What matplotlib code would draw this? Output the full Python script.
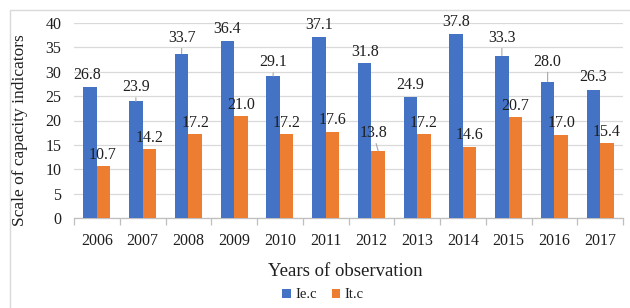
import matplotlib
matplotlib.use("Agg")
import matplotlib.pyplot as plt
import numpy as np
from matplotlib.patches import Rectangle

years = ["2006", "2007", "2008", "2009", "2010", "2011", "2012", "2013", "2014", "2015", "2016", "2017"]
iec = [26.8, 23.9, 33.7, 36.4, 29.1, 37.1, 31.8, 24.9, 37.8, 33.3, 28.0, 26.3]
itc = [10.7, 14.2, 17.2, 21.0, 17.2, 17.6, 13.8, 17.2, 14.6, 20.7, 17.0, 15.4]
series_names = ["Ie.c", "It.c"]

# label placement (pixels above bar top, x shift) and leader-line flags
blue_dy = [12, 14.5, 16, 11.5, 14, 12, 11, 12, 12, 18, 20, 13]
blue_dx = [-3, 0, 0, 0, 0, 0, 0, 0, 0, 0, 0, 0]
blue_lead = [False, True, True, False, True, False, False, False, False, True, True, False]
orng_dy = [11, 11, 11, 11, 11, 12, 18, 11, 12, 11, 12, 11]
orng_dx = [-1, 0, 0, 0, 0, 0, -5, 0, 0, 0, 0, 0]
orng_lead = [False, False, False, False, False, False, True, False, False, False, False, False]

BLUE = "#4472C4"
ORANGE = "#ED7D31"
TXT = "#1f1f1f"
FONT = "Liberation Serif"
plt.rcParams["font.family"] = [FONT, "DejaVu Serif"]

fig = plt.figure(figsize=(6.3, 3.08), dpi=100)
ax = fig.add_axes([74 / 630, 1 - 218 / 308, (623 - 74) / 630, (218 - 23) / 308])

x = np.arange(len(years))
w = 0.295
b1 = ax.bar(x - w / 2, iec, w, color=BLUE, label=series_names[0], zorder=3)
b2 = ax.bar(x + w / 2, itc, w, color=ORANGE, label=series_names[1], zorder=3)

ax.set_ylim(0, 40)
ax.set_xlim(-0.5, len(years) - 0.5)
ax.set_yticks(np.arange(0, 41, 5))
ax.yaxis.grid(True, color="#D9D9D9", lw=0.9, zorder=0)
ax.set_axisbelow(True)
for s in ["top", "right", "left"]:
    ax.spines[s].set_visible(False)
ax.spines["bottom"].set_color("#BFBFBF")
ax.spines["bottom"].set_linewidth(0.9)
ax.tick_params(axis="y", length=0, pad=9, labelsize=11.5, labelcolor=TXT)
ax.set_xticks(x)
ax.set_xticklabels(years)
ax.tick_params(axis="x", which="major", length=0, pad=11, labelsize=11.5, labelcolor=TXT)
ax.set_xticks(np.arange(-0.5, len(years), 1), minor=True)
ax.tick_params(axis="x", which="minor", length=5, color="#BFBFBF", width=0.9)

def label(xc, val, dy, dx, lead):
    kw = {}
    if lead:
        kw["arrowprops"] = dict(arrowstyle="-", color="#A6A6A6", lw=0.8, shrinkA=0, shrinkB=0)
    ax.annotate(f"{val:.1f}", xy=(xc, val), xytext=(dx, dy), textcoords="offset pixels",
                ha="center", va="center", fontsize=11.5, color=TXT, zorder=4, **kw)

for i in range(len(years)):
    label(x[i] - w / 2, iec[i], blue_dy[i], blue_dx[i], blue_lead[i])
    label(x[i] + w / 2, itc[i], orng_dy[i], orng_dx[i], orng_lead[i])

fig.text(20 / 630, 1 - 130 / 308, "Scale of capacity indicators", rotation=90,
         ha="center", va="center", fontsize=12.5, color=TXT)
fig.text(345 / 630, 1 - 272 / 308, "Years of observation", ha="center", va="center",
         fontsize=13.5, color=TXT)

fig.legend(handles=[b1, b2], labels=series_names, loc="center",
           bbox_to_anchor=(323 / 630, 1 - 295 / 308), ncol=2, frameon=False,
           fontsize=10.5, handlelength=0.6, handleheight=0.6, handletextpad=0.3,
           columnspacing=1.0, labelcolor=TXT)

fig.patches.append(Rectangle((9.5 / 630, -0.2), 1.2, 0.2 + (1 - 10 / 308),
                             transform=fig.transFigure, fill=False,
                             edgecolor="#D9D9D9", lw=1.0, figure=fig))

fig.savefig("out.png", dpi=100)
